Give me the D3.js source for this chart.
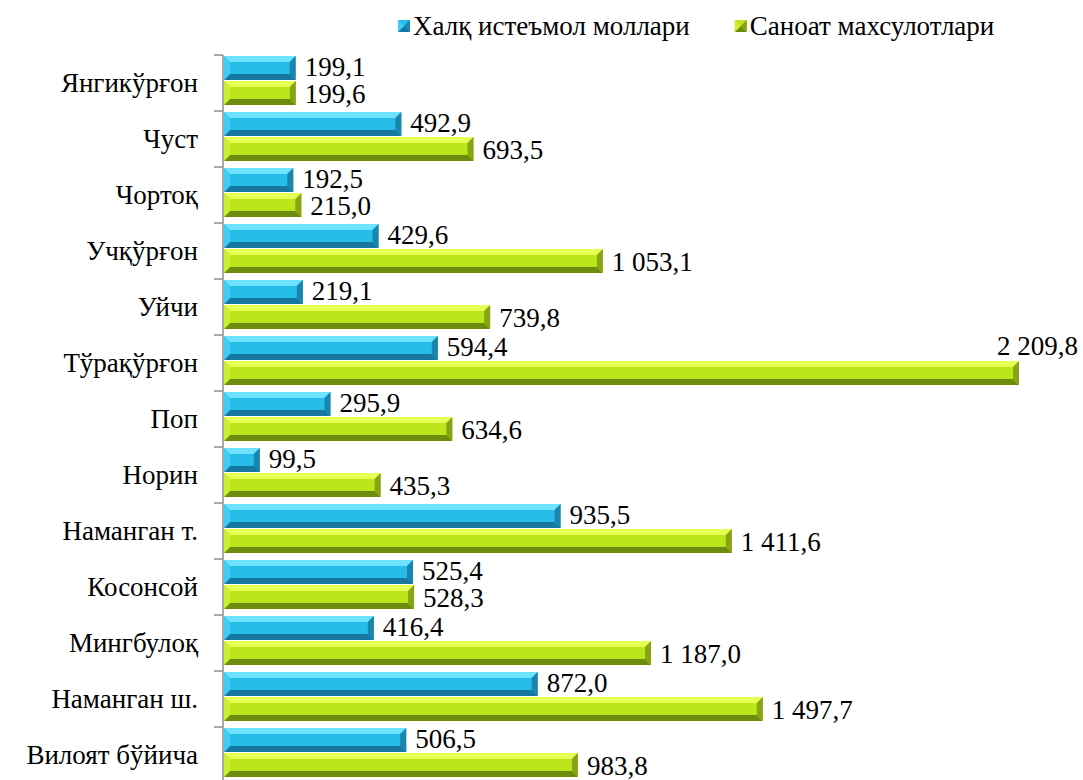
<!DOCTYPE html>
<html>
<head>
<meta charset="utf-8">
<script src="https://cdn.jsdelivr.net/npm/d3@7"></script>
<style>
  body { margin: 0; background: #fff; }
</style>
</head>
<body>
<svg id="chart" width="1083" height="780"></svg>
<script>
// categories from top to bottom
let districts = ["Янгикўрғон", "Чуст", "Чортоқ", "Учқўрғон", "Уйчи", "Тўрақўрғон", "Поп",
    "Норин", "Наманган т.", "Косонсой", "Мингбулоқ", "Наманган ш.", "Вилоят бўйича"]
let seriesNames = ["Халқ истеъмол моллари", "Саноат махсулотлари"]
let consumerGoods = [199.1, 492.9, 192.5, 429.6, 219.1, 594.4, 295.9, 99.5, 935.5, 525.4, 416.4, 872.0, 506.5]
let industrialGoods = [199.6, 693.5, 215.0, 1053.1, 739.8, 2209.8, 634.6, 435.3, 1411.6, 528.3, 1187.0, 1497.7, 983.8]

let svg = d3.select("#chart")

let margin = { top: 55, left: 223 }
let bandH = 56
let fontFamily = "Tinos, 'Liberation Serif', FreeSerif, serif"
let fontSize = "27px"
let baseShift = 9   // centre line to baseline

// facet colours: light top, base, dark bottom, right end
let palette = [
    { top: "#6fe2ff", base: "#27bdea", bottom: "#17789f", right: "#1a86ad", left: "#3fcdf5" },
    { top: "#e6ff55", base: "#bde51c", bottom: "#6c8c0e", right: "#86a414", left: "#cdf02e" }
]

let rows = districts.map((d, i) => ({
    name: d,
    values: [consumerGoods[i], industrialGoods[i]]
}))

let yScale = d3.scaleBand()
    .domain(districts)
    .range([margin.top, margin.top + bandH * districts.length])

let ySub = d3.scaleBand()
    .domain([0, 1])
    .range([1, 50])
    .paddingInner(0.04)

let xScale = d3.scaleLinear()
    .domain([0, 2209.8])
    .range([margin.left + 1, 1019])

function addText(x, y, str, anchor) {
    return svg.append("text")
        .attr("x", x)
        .attr("y", y)
        .attr("text-anchor", anchor || "start")
        .attr("font-family", fontFamily)
        .attr("font-size", fontSize)
        .style("font-family", fontFamily)
        .style("font-size", fontSize)
        .text(str)
}

// axis line with ticks between categories
svg.append("line")
    .attr("x1", margin.left).attr("x2", margin.left)
    .attr("y1", yScale.range()[0]).attr("y2", yScale.range()[1])
    .attr("stroke", "#8c8c8c").attr("stroke-width", 1.5)
svg.selectAll(".tick")
    .data(d3.range(districts.length + 1))
    .enter().append("line")
    .attr("x1", margin.left - 9).attr("x2", margin.left)
    .attr("y1", i => margin.top + i * bandH)
    .attr("y2", i => margin.top + i * bandH)
    .attr("stroke", "#8c8c8c").attr("stroke-width", 1.5)

function bevelBar(g, w, h, c) {
    let b = Math.min(6, w / 2, h / 2)
    g.append("rect").attr("width", w).attr("height", h).attr("fill", c.base)
    g.append("polygon").attr("points", [[0, 0], [w, 0], [w - b, b], [b, b]].join(" ")).attr("fill", c.top)
    g.append("polygon").attr("points", [[0, h], [w, h], [w - b, h - b], [b, h - b]].join(" ")).attr("fill", c.bottom)
    g.append("polygon").attr("points", [[w, 0], [w, h], [w - b, h - b], [w - b, b]].join(" ")).attr("fill", c.right)
    g.append("polygon").attr("points", [[0, 0], [b, b], [b, h - b], [0, h]].join(" ")).attr("fill", c.left)
}

let fmt = v => d3.format(",.1f")(v).replace(/,/g, " ").replace(".", ",")

// bars
rows.forEach(d => {
    d.values.forEach((v, s) => {
        let x0 = xScale(0)
        let bar = svg.append("g")
            .attr("transform", "translate(" + x0 + "," + (yScale(d.name) + ySub(s)) + ")")
        bevelBar(bar, xScale(v) - x0, ySub.bandwidth(), palette[s])
    })
})

// category labels
districts.forEach(d => {
    addText(198, yScale(d) + yScale.bandwidth() / 2 + baseShift, d, "end")
})

// value labels, nudged apart vertically
let maxVal = d3.max(industrialGoods)
rows.forEach(d => {
    d.values.forEach((v, s) => {
        let isMax = v === maxVal
        let cy = yScale(d.name) + ySub(isMax ? 0 : s) + ySub.bandwidth() / 2
        if (isMax) addText(xScale(v) + 59, cy - 2 + baseShift, fmt(v), "end")
        else addText(xScale(v) + 9, cy + baseShift + (s === 0 ? -1 : 1), fmt(v))
    })
})

// legend
let legendX = 398
seriesNames.forEach((name, s) => {
    let item = svg.append("g").attr("transform", "translate(" + legendX + ",20)")
    bevelBar(item, 12, 12, Object.assign({}, palette[s], { top: palette[s].base }))
    let t = addText(legendX + 15, 27 + baseShift - 1, name)
    legendX = Math.max(679, legendX + 15 + t.node().getComputedTextLength() + 45)
})
</script>
</body>
</html>
